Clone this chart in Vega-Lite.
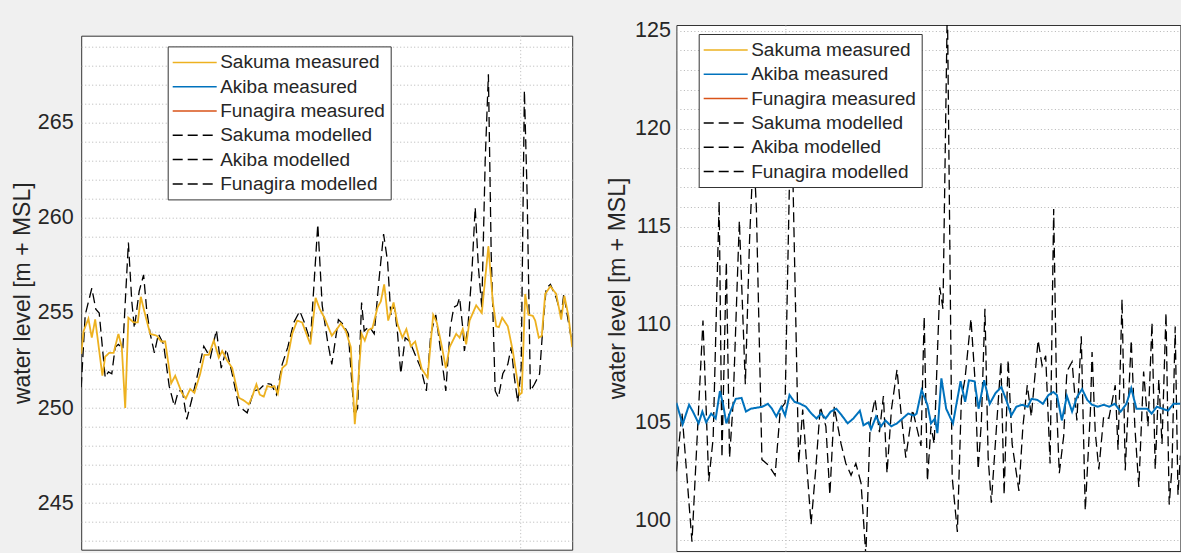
{
  "$schema": "https://vega.github.io/schema/vega-lite/v6.json",
  "background": "#f0f0f0",
  "padding": {"left": 10.2, "top": 19, "right": 0, "bottom": 0},
  "spacing": 32.2,
  "datasets": {
    "sakuma_meas": [
      {"t":0,"level":252.84},{"t":0.6,"level":254.05},{"t":1.8,"level":254.7},{"t":2.65,"level":253.7},{"t":3.5,"level":254.66},{"t":5.3,"level":251.7},{"t":6.0,"level":252.7},{"t":7.0,"level":252.9},{"t":8.1,"level":252.9},{"t":9.3,"level":253.9},{"t":10.15,"level":253.2},{"t":11.0,"level":250.0},{"t":11.8,"level":254.75},{"t":13.1,"level":254.5},{"t":14.15,"level":254.5},{"t":14.9,"level":255.85},{"t":16.0,"level":254.9},{"t":17.25,"level":253.9},{"t":18.9,"level":253.8},{"t":20.0,"level":253.5},{"t":21.0,"level":253.5},{"t":22.5,"level":251.3},{"t":23.5,"level":251.7},{"t":25.15,"level":250.8},{"t":26.15,"level":250.5},{"t":27.25,"level":251.0},{"t":28.3,"level":250.8},{"t":29.75,"level":251.8},{"t":30.8,"level":252.8},{"t":31.9,"level":252.8},{"t":33.15,"level":253.55},{"t":34.4,"level":252.65},{"t":35.25,"level":253.0},{"t":36.5,"level":252.5},{"t":37.75,"level":252.1},{"t":39.4,"level":250.55},{"t":40.65,"level":250.4},{"t":41.9,"level":250.2},{"t":42.75,"level":250.6},{"t":43.8,"level":251.25},{"t":44.65,"level":250.7},{"t":45.65,"level":250.6},{"t":46.5,"level":251.15},{"t":47.5,"level":251.1},{"t":48.3,"level":251.15},{"t":49.15,"level":250.75},{"t":50.25,"level":252.1},{"t":51.3,"level":252.3},{"t":52.75,"level":253.9},{"t":54.0,"level":254.6},{"t":55.25,"level":254.5},{"t":56.3,"level":253.9},{"t":57.3,"level":253.35},{"t":58.6,"level":255.8},{"t":59.65,"level":255.2},{"t":60.8,"level":254.75},{"t":62.65,"level":253.8},{"t":64.1,"level":254.2},{"t":64.9,"level":254.45},{"t":66.15,"level":254.05},{"t":67.4,"level":253.2},{"t":68.4,"level":249.15},{"t":69.1,"level":250.9},{"t":70.1,"level":253.9},{"t":70.9,"level":253.55},{"t":71.75,"level":254.1},{"t":72.8,"level":254.2},{"t":74.1,"level":255.3},{"t":74.9,"level":255.6},{"t":75.75,"level":256.5},{"t":76.75,"level":254.6},{"t":78.1,"level":255.55},{"t":79.1,"level":254.4},{"t":80.3,"level":253.7},{"t":81.3,"level":254.15},{"t":82.4,"level":253.25},{"t":83.5,"level":253.5},{"t":85.15,"level":252.05},{"t":86.6,"level":251.6},{"t":88.0,"level":254.9},{"t":88.9,"level":254.5},{"t":90.15,"level":253.25},{"t":91.15,"level":252.1},{"t":92.1,"level":253.2},{"t":93.75,"level":253.9},{"t":94.6,"level":253.7},{"t":95.4,"level":254.15},{"t":96.25,"level":253.35},{"t":97.1,"level":254.6},{"t":98.75,"level":255.4},{"t":100.15,"level":255.0},{"t":101.8,"level":258.5},{"t":102.9,"level":255.6},{"t":103.75,"level":254.3},{"t":104.4,"level":254.25},{"t":105.25,"level":254.75},{"t":106.65,"level":254.3},{"t":107.9,"level":253.0},{"t":109.6,"level":250.7},{"t":110.15,"level":250.8},{"t":111.0,"level":256.0},{"t":111.8,"level":254.9},{"t":112.9,"level":254.85},{"t":113.5,"level":254.6},{"t":114.4,"level":253.7},{"t":115.15,"level":253.8},{"t":116.0,"level":256.0},{"t":117.3,"level":256.4},{"t":118.75,"level":256.0},{"t":120.0,"level":254.65},{"t":120.8,"level":255.9},{"t":121.8,"level":254.85},{"t":122.75,"level":253.2}
    ],
    "sakuma_mod": [
      {"t":0,"level":251.1},{"t":1.0,"level":254.9},{"t":2.65,"level":256.3},{"t":3.65,"level":255.2},{"t":4.5,"level":255.0},{"t":6.0,"level":251.6},{"t":6.8,"level":251.9},{"t":7.65,"level":251.8},{"t":8.5,"level":253.2},{"t":9.3,"level":253.35},{"t":10.4,"level":253.1},{"t":11.8,"level":258.7},{"t":12.65,"level":255.6},{"t":13.3,"level":254.2},{"t":14.5,"level":256.15},{"t":15.6,"level":257.0},{"t":16.4,"level":255.1},{"t":17.25,"level":253.9},{"t":18.3,"level":252.9},{"t":19.3,"level":253.9},{"t":20.6,"level":253.35},{"t":22.0,"level":251.15},{"t":23.3,"level":250.1},{"t":24.3,"level":250.9},{"t":25.3,"level":250.9},{"t":26.4,"level":249.4},{"t":27.65,"level":250.45},{"t":29.3,"level":251.95},{"t":30.65,"level":253.25},{"t":32.3,"level":252.65},{"t":33.8,"level":254.1},{"t":35.0,"level":252.1},{"t":36.3,"level":253.1},{"t":37.75,"level":251.8},{"t":39.4,"level":250.1},{"t":41.5,"level":249.75},{"t":43.15,"level":250.9},{"t":44.65,"level":251.0},{"t":46.1,"level":251.3},{"t":47.5,"level":251.25},{"t":48.8,"level":250.7},{"t":50.25,"level":252.3},{"t":51.65,"level":253.2},{"t":53.15,"level":254.5},{"t":54.65,"level":255.1},{"t":55.8,"level":254.5},{"t":57.3,"level":253.5},{"t":59.15,"level":259.67},{"t":60.25,"level":255.4},{"t":61.6,"level":253.5},{"t":62.65,"level":252.3},{"t":64.3,"level":254.65},{"t":65.5,"level":254.4},{"t":66.8,"level":253.9},{"t":68.25,"level":249.6},{"t":69.1,"level":250.0},{"t":70.1,"level":255.55},{"t":70.75,"level":254.05},{"t":72.0,"level":254.3},{"t":73.25,"level":253.9},{"t":74.5,"level":256.85},{"t":75.6,"level":259.15},{"t":76.6,"level":257.7},{"t":77.4,"level":254.9},{"t":78.25,"level":255.4},{"t":79.1,"level":253.9},{"t":79.9,"level":251.8},{"t":81.0,"level":253.7},{"t":82.15,"level":253.5},{"t":83.5,"level":252.8},{"t":84.9,"level":252.1},{"t":86.3,"level":250.9},{"t":87.4,"level":253.9},{"t":88.65,"level":254.9},{"t":90.15,"level":252.55},{"t":91.15,"level":250.9},{"t":92.25,"level":254.2},{"t":93.15,"level":255.3},{"t":94.0,"level":255.4},{"t":94.6,"level":255.8},{"t":95.4,"level":254.2},{"t":95.8,"level":253.0},{"t":96.65,"level":254.2},{"t":97.65,"level":257.05},{"t":98.5,"level":260.55},{"t":99.3,"level":257.4},{"t":100.15,"level":255.3},{"t":101.0,"level":263.0},{"t":101.8,"level":267.55},{"t":102.5,"level":258.1},{"t":103.5,"level":250.9},{"t":104.3,"level":250.55},{"t":105.4,"level":251.8},{"t":106.65,"level":252.3},{"t":107.5,"level":253.2},{"t":108.3,"level":251.6},{"t":109.15,"level":250.3},{"t":110.0,"level":252.1},{"t":110.8,"level":266.7},{"t":111.5,"level":261.1},{"t":112.3,"level":250.9},{"t":113.3,"level":251.25},{"t":114.6,"level":251.8},{"t":115.4,"level":254.2},{"t":116.25,"level":256.3},{"t":117.3,"level":256.5},{"t":118.75,"level":255.8},{"t":120.0,"level":254.9},{"t":120.65,"level":256.0},{"t":121.5,"level":254.9},{"t":122.65,"level":253.5}
    ],
    "akiba_meas": [
      {"t":0,"level":106.0},{"t":1.57,"level":104.9},{"t":3.18,"level":105.9},{"t":4.13,"level":105.55},{"t":5.56,"level":104.95},{"t":6.5,"level":105.55},{"t":7.45,"level":105.0},{"t":8.7,"level":105.45},{"t":9.83,"level":105.2},{"t":10.9,"level":106.6},{"t":11.7,"level":105.9},{"t":12.5,"level":104.95},{"t":13.6,"level":105.6},{"t":14.85,"level":106.2},{"t":16.3,"level":106.25},{"t":17.4,"level":105.55},{"t":18.65,"level":105.7},{"t":20.1,"level":105.75},{"t":21.5,"level":105.8},{"t":22.9,"level":105.95},{"t":23.9,"level":105.7},{"t":25.0,"level":105.3},{"t":26.25,"level":105.8},{"t":27.2,"level":105.35},{"t":28.3,"level":106.4},{"t":29.55,"level":106.05},{"t":31.0,"level":105.95},{"t":32.4,"level":105.8},{"t":33.8,"level":105.45},{"t":35.05,"level":105.2},{"t":36.2,"level":105.45},{"t":37.35,"level":105.2},{"t":38.6,"level":105.55},{"t":40.0,"level":105.7},{"t":41.4,"level":105.35},{"t":42.85,"level":104.95},{"t":44.3,"level":105.2},{"t":45.9,"level":105.6},{"t":46.8,"level":104.85},{"t":48.05,"level":105.0},{"t":48.7,"level":104.65},{"t":49.95,"level":105.3},{"t":51.2,"level":104.8},{"t":52.3,"level":105.1},{"t":53.75,"level":104.8},{"t":55.2,"level":104.95},{"t":56.6,"level":105.2},{"t":58.0,"level":105.45},{"t":59.45,"level":105.35},{"t":60.1,"level":105.45},{"t":61.35,"level":106.65},{"t":62.8,"level":105.9},{"t":63.7,"level":104.95},{"t":64.7,"level":105.2},{"t":65.3,"level":104.45},{"t":66.3,"level":107.25},{"t":67.5,"level":105.7},{"t":69.2,"level":104.95},{"t":71.1,"level":107.1},{"t":72.25,"level":106.05},{"t":73.2,"level":107.15},{"t":74.6,"level":107.1},{"t":75.6,"level":105.7},{"t":77.0,"level":107.15},{"t":78.4,"level":105.95},{"t":79.85,"level":106.5},{"t":81.3,"level":106.8},{"t":82.7,"level":106.05},{"t":83.8,"level":105.35},{"t":85.05,"level":105.8},{"t":86.5,"level":105.9},{"t":87.9,"level":105.8},{"t":88.85,"level":106.2},{"t":90.3,"level":106.15},{"t":91.7,"level":105.95},{"t":93.1,"level":106.4},{"t":94.3,"level":106.55},{"t":95.2,"level":106.4},{"t":96.45,"level":105.1},{"t":97.7,"level":106.35},{"t":99.0,"level":105.55},{"t":100.25,"level":106.3},{"t":101.5,"level":106.7},{"t":102.8,"level":106.15},{"t":104.0,"level":105.9},{"t":105.45,"level":105.8},{"t":106.9,"level":105.9},{"t":108.3,"level":105.8},{"t":109.7,"level":105.95},{"t":111.15,"level":105.55},{"t":112.6,"level":105.95},{"t":113.8,"level":106.75},{"t":115.1,"level":105.7},{"t":116.65,"level":105.7},{"t":117.8,"level":105.7},{"t":118.9,"level":105.45},{"t":120.2,"level":105.8},{"t":121.6,"level":105.7},{"t":123.0,"level":105.6},{"t":124.4,"level":105.95},{"t":126.1,"level":105.95}
    ],
    "akiba_mod": [
      {"t":0,"level":102.5},{"t":1.4,"level":105.5},{"t":3.9,"level":98.9},{"t":6.65,"level":110.2},{"t":8.1,"level":102.0},{"t":9.2,"level":104.2},{"t":10.7,"level":116.3},{"t":11.4,"level":103.2},{"t":12.5,"level":113.2},{"t":13.3,"level":103.2},{"t":14.2,"level":106.0},{"t":15.75,"level":115.3},{"t":17.25,"level":106.95},{"t":18.3,"level":114.3},{"t":19.3,"level":119.0},{"t":20.0,"level":116.0},{"t":21.4,"level":103.1},{"t":23.1,"level":102.8},{"t":24.7,"level":102.3},{"t":26.0,"level":105.65},{"t":27.2,"level":106.0},{"t":28.5,"level":119.5},{"t":29.2,"level":117.0},{"t":30.6,"level":102.9},{"t":31.6,"level":105.65},{"t":33.7,"level":99.8},{"t":34.9,"level":102.7},{"t":36.0,"level":105.8},{"t":37.4,"level":104.8},{"t":38.4,"level":101.3},{"t":39.5,"level":105.8},{"t":41.2,"level":103.9},{"t":42.4,"level":102.9},{"t":43.7,"level":102.3},{"t":44.9,"level":102.9},{"t":46.2,"level":101.9},{"t":47.4,"level":98.2},{"t":48.5,"level":105.0},{"t":49.7,"level":106.2},{"t":50.8,"level":104.5},{"t":51.8,"level":106.35},{"t":52.7,"level":102.4},{"t":53.8,"level":105.65},{"t":55.2,"level":107.7},{"t":56.2,"level":105.5},{"t":57.4,"level":103.2},{"t":59.1,"level":105.65},{"t":61.2,"level":103.8},{"t":62.0,"level":110.4},{"t":62.8,"level":102.0},{"t":63.7,"level":104.8},{"t":64.5,"level":103.9},{"t":65.9,"level":111.9},{"t":66.7,"level":110.8},{"t":67.8,"level":126.5},{"t":69.0,"level":102.2},{"t":70.3,"level":99.4},{"t":71.3,"level":106.2},{"t":72.2,"level":107.2},{"t":73.7,"level":110.3},{"t":74.7,"level":107.2},{"t":75.5,"level":102.6},{"t":76.3,"level":105.0},{"t":77.2,"level":110.8},{"t":78.0,"level":103.2},{"t":78.8,"level":100.9},{"t":80.1,"level":104.8},{"t":81.2,"level":108.1},{"t":82.0,"level":101.3},{"t":83.0,"level":108.2},{"t":84.0,"level":103.9},{"t":85.7,"level":101.5},{"t":86.7,"level":104.8},{"t":87.8,"level":106.9},{"t":88.8,"level":105.3},{"t":90.5,"level":109.2},{"t":91.5,"level":107.9},{"t":92.4,"level":108.4},{"t":93.5,"level":102.9},{"t":94.4,"level":115.9},{"t":95.2,"level":105.5},{"t":95.8,"level":102.4},{"t":96.9,"level":104.3},{"t":97.7,"level":107.6},{"t":99.0,"level":108.1},{"t":100.2,"level":105.1},{"t":101.3,"level":109.4},{"t":102.3,"level":100.5},{"t":103.6,"level":105.65},{"t":104.0,"level":108.6},{"t":104.8,"level":104.5},{"t":105.7,"level":102.6},{"t":106.9,"level":105.3},{"t":108.2,"level":105.2},{"t":109.8,"level":106.9},{"t":110.5,"level":103.6},{"t":111.5,"level":111.3},{"t":112.3,"level":102.55},{"t":113.8,"level":109.2},{"t":114.7,"level":104.8},{"t":115.7,"level":101.7},{"t":116.9,"level":107.6},{"t":118.0,"level":104.8},{"t":119.0,"level":110.1},{"t":119.8,"level":102.6},{"t":120.7,"level":107.2},{"t":121.5,"level":103.9},{"t":122.5,"level":110.6},{"t":123.3,"level":100.8},{"t":124.0,"level":102.7},{"t":124.8,"level":109.9},{"t":125.5,"level":101.3},{"t":126.1,"level":103.3}
    ]
  },
  "hconcat": [
    {
      "spacing": 8.7,
      "vconcat": [
        {
          "width": 491,
          "height": 1,
          "view": {"stroke": null, "fill": null},
          "data": {"values": []},
          "mark": "point"
        },
        {
          "width": 491,
          "height": 514,
          "layer": [
            {
              "data": {"name": "sakuma_mod"},
              "mark": {"type": "line", "strokeWidth": 1.3, "clip": true},
              "encoding": {
                "x": {"field": "t", "type": "quantitative", "scale": {"domain": [0, 122.75], "nice": false, "zero": false},
                      "axis": {"values": [109.8], "tickCount": 5, "grid": true, "labels": false, "ticks": false, "domain": false, "title": null}},
                "y": {"field": "level", "type": "quantitative", "scale": {"domain": [242.55, 269.58], "nice": false, "zero": false},
                      "axis": {"values": [243,244,245,246,247,248,249,250,251,252,253,254,255,256,257,258,259,260,261,262,263,264,265,266,267,268,269],
                               "tickCount": 60, "format": "d",
                               "labelExpr": "datum.value % 5 === 0 ? datum.label : ''", "labelOverlap": false, "labelFlush": false,
                               "title": "water level [m + MSL]", "titlePadding": 3, "labelPadding": 8, "grid": true}},
                "color": {"datum": "Sakuma modelled", "type": "nominal",
                          "scale": {"domain": ["Sakuma measured","Akiba measured","Funagira measured","Sakuma modelled","Akiba modelled","Funagira modelled"],
                                    "range": ["#EDB120","#0072BD","#D95319","#000000","#000000","#000000"]},
                          "legend": {"orient": "none", "legendX": 86.5, "legendY": 10.7, "title": null}},
                "strokeDash": {"datum": "Sakuma modelled", "type": "nominal",
                          "scale": {"domain": ["Sakuma measured","Akiba measured","Funagira measured","Sakuma modelled","Akiba modelled","Funagira modelled"],
                                    "range": [[1,0],[1,0],[1,0],[10,5],[10,5],[10,5]]},
                          "legend": {"orient": "none", "legendX": 86.5, "legendY": 10.7, "title": null}}
              }
            },
            {
              "data": {"name": "sakuma_meas"},
              "mark": {"type": "line", "strokeWidth": 1.8, "clip": true},
              "encoding": {
                "x": {"field": "t", "type": "quantitative"},
                "y": {"field": "level", "type": "quantitative"},
                "color": {"datum": "Sakuma measured", "type": "nominal"},
                "strokeDash": {"datum": "Sakuma measured", "type": "nominal"}
              }
            }
          ]
        }
      ],
      "resolve": {
        "scale": {"x": "independent", "y": "independent", "color": "independent", "strokeDash": "independent"},
        "legend": {"color": "independent", "strokeDash": "independent"}
      }
    },
    {
      "width": 504,
      "height": 526,
      "layer": [
        {
          "data": {"name": "akiba_mod"},
          "mark": {"type": "line", "strokeWidth": 1.3, "clip": true},
          "encoding": {
            "x": {"field": "t", "type": "quantitative", "scale": {"domain": [0, 126.1], "nice": false, "zero": false},
                  "axis": {"values": [27.25], "tickCount": 5, "grid": true, "labels": false, "ticks": false, "domain": false, "title": null}},
            "y": {"field": "level", "type": "quantitative", "scale": {"domain": [98.43, 125.3], "nice": false, "zero": false},
                  "axis": {"values": [99,100,101,102,103,104,105,106,107,108,109,110,111,112,113,114,115,116,117,118,119,120,121,122,123,124,125],
                           "tickCount": 60, "format": "d",
                           "labelExpr": "datum.value % 5 === 0 ? datum.label : ''", "labelOverlap": false, "labelFlush": false,
                           "title": "water level [m + MSL]", "titlePadding": 5, "labelPadding": 6, "grid": true}},
            "color": {"datum": "Akiba modelled", "type": "nominal",
                      "scale": {"domain": ["Sakuma measured","Akiba measured","Funagira measured","Sakuma modelled","Akiba modelled","Funagira modelled"],
                                "range": ["#EDB120","#0072BD","#D95319","#000000","#000000","#000000"]},
                      "legend": {"orient": "none", "legendX": 22.3, "legendY": 9, "title": null}},
            "strokeDash": {"datum": "Akiba modelled", "type": "nominal",
                      "scale": {"domain": ["Sakuma measured","Akiba measured","Funagira measured","Sakuma modelled","Akiba modelled","Funagira modelled"],
                                "range": [[1,0],[1,0],[1,0],[10,5],[10,5],[10,5]]},
                      "legend": {"orient": "none", "legendX": 22.3, "legendY": 9, "title": null}}
          }
        },
        {
          "data": {"name": "akiba_meas"},
          "mark": {"type": "line", "strokeWidth": 2, "clip": true},
          "encoding": {
            "x": {"field": "t", "type": "quantitative"},
            "y": {"field": "level", "type": "quantitative"},
            "color": {"datum": "Akiba measured", "type": "nominal"},
            "strokeDash": {"datum": "Akiba measured", "type": "nominal"}
          }
        }
      ]
    }
  ],
  "resolve": {
    "scale": {"x": "independent", "y": "independent", "color": "independent", "strokeDash": "independent"},
    "legend": {"color": "independent", "strokeDash": "independent"}
  },
  "config": {
    "font": "Liberation Sans",
    "view": {"fill": "white", "stroke": "#333333", "strokeWidth": 1},
    "axis": {
      "labelFont": "Liberation Sans", "labelFontSize": 21.5, "labelColor": "#262626",
      "titleFont": "Liberation Sans", "titleFontSize": 23, "titleFontWeight": "normal", "titleColor": "#262626",
      "ticks": false, "domain": false,
      "gridColor": "#b5b5b5", "gridDash": [1, 2.5], "gridWidth": 1, "gridOpacity": 1
    },
    "legend": {
      "labelFont": "Liberation Sans", "labelFontSize": 19, "labelColor": "#262626", "labelLimit": 400,
      "symbolType": "M-1.1,0H3.3", "symbolSize": 400, "symbolStrokeWidth": 1.5, "labelOffset": 25.5,
      "rowPadding": 3.3, "padding": 5, "fillColor": "white", "strokeColor": "#333333", "cornerRadius": 0
    }
  }
}
